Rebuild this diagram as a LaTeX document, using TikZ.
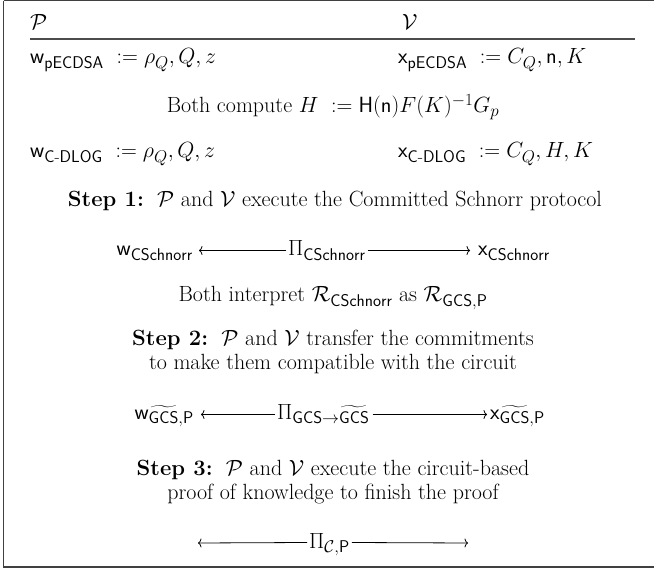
\RequirePackage{fix-cm}
\documentclass[tikz,border=0pt]{standalone}
\usepackage{amsmath}
\usepackage{fontspec}
\usetikzlibrary{arrows.meta}
\DeclareMathSizes{22}{22}{17}{13}
\begin{document}
\begin{tikzpicture}[x=1pt,y=-1pt,
  txt/.style={inner sep=0pt,font=\fontsize{22}{24}\selectfont},
  arr/.style={draw=black,line width=0.8pt,-{To[length=3.5pt,width=9pt]}},
  frame/.style={draw=black!75,line width=1.3pt}]
\useasboundingbox (0,0) rectangle (654,569);
\draw[frame] (3.5,0.8) -- (700,0.8);
\draw[frame] (3.5,0.8) -- (3.5,567) -- (700,567);
\draw[line width=1.1pt,black!70] (30,39) -- (635,39);

\node[txt,anchor=base west] (P) at (30,30) {$\mathcal{P}$};
\node[txt,anchor=base west] (V) at (402,30) {$\mathcal{V}$};

\node[txt,anchor=base west] (w1) at (30,64) {$\mathsf{w}_{\mathsf{pECDSA}}\ \mathrel{:=} \rho_Q, Q, z$};
\node[txt,anchor=base west] (x1) at (398,64) {$\mathsf{x}_{\mathsf{pECDSA}}\ \mathrel{:=} C_Q, \mathsf{n}, K$};

\node[txt,anchor=base] (bc) at (333,113) {Both compute $H\ \mathrel{:=} \mathsf{H}(\mathsf{n})F(K)^{-1}G_p$};

\node[txt,anchor=base west] (w2) at (30,158) {$\mathsf{w}_{\mathsf{C\text{-}DLOG}}\ \mathrel{:=} \rho_Q, Q, z$};
\node[txt,anchor=base west] (x2) at (398,158) {$\mathsf{x}_{\mathsf{C\text{-}DLOG}}\ \mathrel{:=} C_Q, H, K$};

\node[txt,anchor=base] (s1) at (335,207) {\textbf{Step 1:}\ \ $\mathcal{P}$ and $\mathcal{V}$ execute the Committed Schnorr protocol};

\node[txt,anchor=base east] (wc) at (193,256) {$\mathsf{w}_{\mathsf{CSchnorr}}$};
\node[txt,anchor=base west] (pc) at (288,256) {$\Pi_{\mathsf{CSchnorr}}$};
\node[txt,anchor=base west] (xc) at (478,256) {$\mathsf{x}_{\mathsf{CSchnorr}}$};
\draw[arr] ([yshift=5.5pt,xshift=-2pt]pc.base west) -- ([yshift=5.5pt,xshift=6pt]wc.base east);
\draw[arr] ([yshift=5.5pt,xshift=2pt]pc.base east) -- ([yshift=5.5pt,xshift=-8pt]xc.base west);

\node[txt,anchor=base] (bi) at (333,302) {Both interpret $\mathcal{R}_{\mathsf{CSchnorr}}$ as $\mathcal{R}_{\mathsf{GCS,P}}$};

\node[txt,anchor=base,align=center] (s2) at (333,370) {\textbf{Step 2:}\ \ $\mathcal{P}$ and $\mathcal{V}$ transfer the commitments\\ to make them compatible with the circuit};

\node[txt,anchor=base east] (wg) at (194,420) {$\mathsf{w}_{\smash{\widetilde{\mathsf{GCS}},\mathsf{P}}}$};
\node[txt,anchor=base west] (pg) at (277,420) {$\Pi_{\smash{\mathsf{GCS}\to\widetilde{\mathsf{GCS}}}}$};
\node[txt,anchor=base west] (xg) at (490,420) {$\mathsf{x}_{\smash{\widetilde{\mathsf{GCS}},\mathsf{P}}}$};
\draw[arr] ([yshift=5.5pt,xshift=-2pt]pg.base west) -- ([yshift=5.5pt,xshift=7pt]wg.base east);
\draw[arr] ([yshift=5.5pt,xshift=3pt]pg.base east) -- ([yshift=5.5pt,xshift=-3pt]xg.base west);

\node[txt,anchor=base,align=center] (s3) at (333,500) {\textbf{Step 3:}\ \ $\mathcal{P}$ and $\mathcal{V}$ execute the circuit-based\\ proof of knowledge to finish the proof};

\coordinate (cl) at (198,543);
\coordinate (cr) at (468,543);
\node[txt,anchor=base west] (pp) at (309,548) {$\Pi_{\mathcal{C},\mathsf{P}}$};
\draw[arr] ([yshift=5.5pt,xshift=-2pt]pp.base west) -- (cl);
\draw[arr] ([yshift=5.5pt,xshift=2pt]pp.base east) -- (cr);
\end{tikzpicture}
\end{document}
